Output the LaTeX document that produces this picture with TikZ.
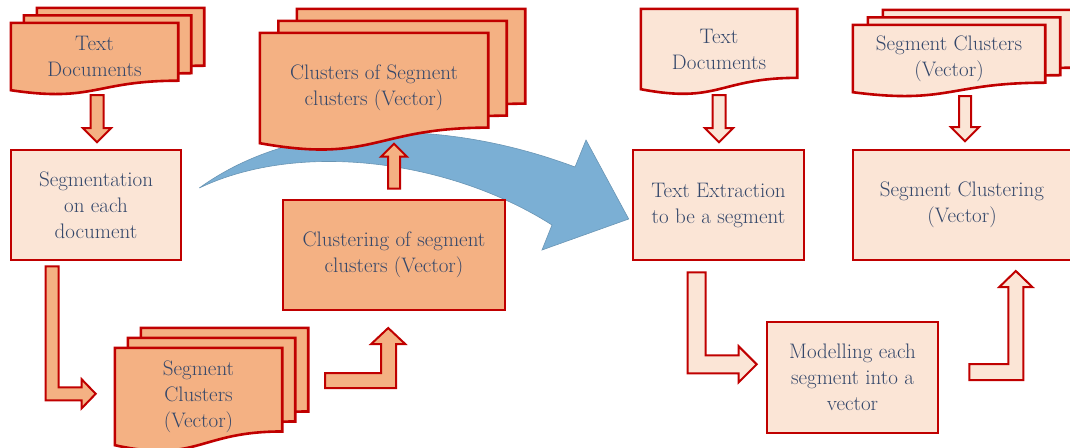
\documentclass[tikz,border=0pt]{standalone}
\usetikzlibrary{calc}
\usetikzlibrary{backgrounds}
\definecolor{boxred}{HTML}{C00000}
\definecolor{darkfill}{HTML}{F4B183}
\definecolor{lightfill}{HTML}{FBE5D6}
\definecolor{flowblue}{HTML}{7BAFD4}
\definecolor{labeltext}{HTML}{34476A}
\tikzset{%
  box/.style = {rectangle,draw=boxred,line width=2.6pt,align=center,
        text=labeltext,inner sep=2pt},
  darkbox/.style = {box,fill=darkfill},
  lightbox/.style = {box,fill=lightfill},
  doc/.style = {rectangle,align=center,text=labeltext,inner sep=0pt},
  wh/.style 2 args = {minimum width=#1pt,minimum height=#2pt},
  docline/.style = {draw=boxred,line width=2.6pt},
  darkarrow/.style = {draw=boxred,line width=2pt,fill=darkfill},
  lightarrow/.style = {draw=boxred,line width=2pt,fill=lightfill},
  bigarrow/.style = {draw=flowblue!85!black,line width=0.6pt,fill=flowblue}
}
% stack of document sheets behind a doc node: node, fill, dx, dy, copies
\newcommand{\docstack}[5]{%
  \foreach \k in {#5}
    \draw[docline,fill=#2]
      ($(#1.north west)+(\k*#3,\k*#4)$) -- ($(#1.north east)+(\k*#3,\k*#4)$)
      -- ($(#1.north east)!0.859!(#1.south east)+(\k*#3,\k*#4)$)
      .. controls ($(#1.north)!0.859!(#1.south)+(\k*#3,\k*#4)$)
      and ($(#1.north)!1.186!(#1.south)+(\k*#3,\k*#4)$)
      .. ($(#1.south west)+(\k*#3,\k*#4)$) -- cycle;
}

\begin{document}
\begin{tikzpicture}[x=1pt,y=-1pt,font=\fontsize{21}{26}\selectfont]
   \useasboundingbox (0,0) rectangle (1070,447);

   % left part
   \node[doc,wh={167}{67}] (td1) at (94.5,56.5) {Text\\Documents};
   \node[lightbox,wh={170}{110}] (seg) at (96,205) {Segmentation\\on each\\document};
   \node[doc,wh={167}{97}] (sc1) at (198.5,396.5) {Segment\\Clusters\\(Vector)};
   \node[darkbox,wh={222}{110}] (clu) at (394,255) {Clustering of segment\\clusters (Vector)};
   \node[doc,wh={228}{110}] (csc) at (374,88) {Clusters of Segment\\clusters (Vector)};

   % right part
   \node[doc,wh={156}{80}] (td2) at (719,49) {Text\\Documents};
   \node[lightbox,wh={171}{110}] (tex) at (718.5,205) {Text Extraction\\to be a segment};
   \node[doc,wh={192}{67}] (sc2) at (949,58.5) {Segment Clusters\\(Vector)};
   \node[lightbox,wh={218}{110}] (scl) at (962,205) {Segment Clustering\\(Vector)};
   \node[lightbox,wh={171}{111}] (mod) at (852.5,377.5) {Modelling each\\segment into a\\vector};

   \draw[darkarrow] ($(td1.south)+(2.5,5)$) ++(-6.5,0) -- ++(13,0) -- ++(0,33)
      -- ++(7.5,0) -- ++(-14,14) -- ++(-14,-14) -- ++(7.5,0) -- cycle;
   \draw[darkarrow] ($(seg.south west)+(36,5)$) -- ++(13,0) -- ++(0,121) -- ++(23,0)
      -- ++(0,-8) -- ++(14,14.5) -- ++(-14,14.5) -- ++(0,-8) -- ++(-36,0) -- cycle;
   \draw[darkarrow] ($(sc1.east)+(43,-8.5)$) -- ++(0,-15) -- ++(56,0) -- ++(0,-29)
      -- ++(-10,0) -- ++(17,-16) -- ++(17,16) -- ++(-9,0) -- ++(0,44) -- cycle;
   \draw[darkarrow] ($(clu.north)+(0,-10)$) ++(-6,0) -- ++(12,0) -- ++(0,-32)
      -- ++(7,0) -- ++(-13,-13) -- ++(-13,13) -- ++(7,0) -- cycle;

   \draw[lightarrow] ($(td2.south)+(0,6)$) ++(-6.5,0) -- ++(13,0) -- ++(0,33)
      -- ++(7.5,0) -- ++(-14,14) -- ++(-14,-14) -- ++(7.5,0) -- cycle;
   \draw[lightarrow] ($(sc2.south)+(16,4)$) ++(-6,0) -- ++(12,0) -- ++(0,31)
      -- ++(8,0) -- ++(-14,14) -- ++(-14,-14) -- ++(8,0) -- cycle;
   \draw[lightarrow] ($(tex.south west)+(56,11)$) -- ++(18,0) -- ++(0,83) -- ++(33,0)
      -- ++(0,-9) -- ++(18,18) -- ++(-18,18) -- ++(0,-9) -- ++(-51,0) -- cycle;
   \draw[lightarrow] ($(mod.east)+(30,2.5)$) -- ++(0,-16) -- ++(39,0) -- ++(0,-77)
      -- ++(-9,0) -- ++(16.5,-16) -- ++(16.5,16) -- ++(-9,0) -- ++(0,93) -- cycle;

   \coordinate (bt) at ($(seg.east)+(17,-17)$);
   \coordinate (bh) at ($(tex.west)+(-3,14)$);

   \begin{scope}[on background layer]
      \draw[bigarrow] (bt) .. controls (300,115) and (450,120) .. (575,167)
         -- (586,140) -- (bh) -- (542,250) -- (552,225)
         .. controls (450,160) and (300,140) .. (bt) -- cycle;
      \docstack{td1}{darkfill}{13}{-7.5}{2,1,0}
      \docstack{sc1}{darkfill}{13}{-10}{2,1,0}
      \docstack{csc}{darkfill}{18.5}{-12}{2,1,0}
      \docstack{td2}{lightfill}{0}{0}{0}
      \docstack{sc2}{lightfill}{15}{-7.5}{2,1,0}
   \end{scope}
\end{tikzpicture}
\end{document}
